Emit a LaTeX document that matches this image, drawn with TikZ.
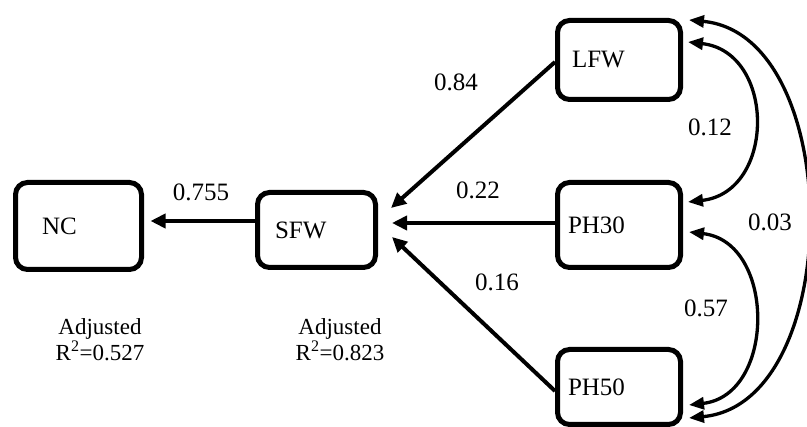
\documentclass[tikz,border=0pt]{standalone}
\usepackage{fontspec}
\setmainfont{Liberation Serif}
\usetikzlibrary{arrows.meta}
\tikzset{
  box/.style={draw, line width=5pt, rounded corners=12pt, align=left, font=\fontsize{25}{30}\selectfont, inner ysep=0pt},
  path/.style={line width=4pt, -{Triangle[length=15pt,width=14pt]}},
  cov/.style={line width=3.3pt, {Triangle[length=15pt,width=12pt]}-{Triangle[length=15pt,width=12pt]}},
  coef/.style={font=\fontsize{25}{30}\selectfont, inner sep=0pt},
  rsq/.style={font=\fontsize{23}{26}\selectfont, align=center, inner sep=0pt}
}
\begin{document}
\begin{tikzpicture}[x=1pt,y=-1pt]
\fill[white] (0,0) rectangle (807,427);
\useasboundingbox (0,0) rectangle (807,427);
% boxes
\node[box, minimum width=126pt, minimum height=87pt, inner xsep=26.5pt, text width=73pt] (NC) at (78.5,226) {NC};
\node[box, minimum width=118pt, minimum height=75pt, inner xsep=17.5pt, text width=83pt] (SFW) at (316.5,230) {SFW};
\node[box, minimum width=123pt, minimum height=79pt, inner xsep=14.5pt, text width=94pt] (LFW) at (619,60) {LFW};
\node[box, minimum width=123pt, minimum height=85pt, inner xsep=10.5pt, text width=102pt] (PH30) at (619,225) {PH30};
\node[box, minimum width=123pt, minimum height=75pt, inner xsep=10.5pt, text width=102pt] (PH50) at (619,387) {PH50};
% paths
\draw[path] ([yshift=9pt]SFW.west) -- ([xshift=6.5pt,yshift=5pt]NC.east);
\draw[path] ([yshift=-2pt]LFW.west) -- ([xshift=13pt,yshift=22pt]SFW.east);
\draw[path] ([yshift=2pt]PH30.west) -- ([xshift=14pt,yshift=7pt]SFW.east);
\draw[path] ([yshift=-4pt]PH50.west) -- ([xshift=14pt,yshift=-7pt]SFW.east);
% covariances
\draw[cov] ([xshift=5pt,yshift=18pt]LFW.east) .. controls +(88,10) and +(88,-10) .. ([xshift=5pt,yshift=23pt]PH30.east);
\draw[cov] ([xshift=6pt,yshift=-7pt]PH30.east) .. controls +(87,10) and +(87,-10) .. ([xshift=6pt,yshift=-18pt]PH50.east);
\draw[cov] ([xshift=6pt,yshift=40pt]LFW.east) .. controls +(157,15) and +(157,-15) .. ([xshift=6pt,yshift=-31pt]PH50.east);
% labels
\node[coef] (l1) at (201,192) {0.755};
\node[coef] (l2) at (456,82) {0.84};
\node[coef] (l3) at (478,190) {0.22};
\node[coef] (l4) at (497,282) {0.16};
\node[coef] (l5) at (710,127) {0.12};
\node[coef] (l6) at (770,222) {0.03};
\node[coef] (l7) at (706,308) {0.57};
\node[rsq] (r1) at (100,340) {Adjusted\\R\textsuperscript{2}=0.527};
\node[rsq] (r2) at (340,340) {Adjusted\\R\textsuperscript{2}=0.823};
\end{tikzpicture}
\end{document}
